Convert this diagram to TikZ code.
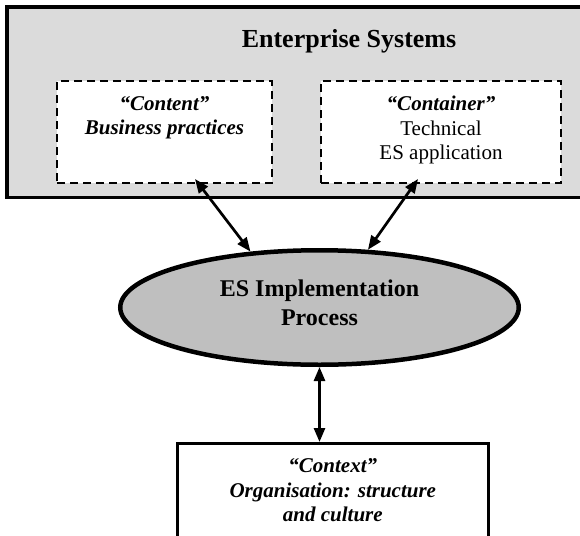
\documentclass[tikz,border=0pt]{standalone}
\usepackage{fontspec}
\setmainfont{Liberation Serif}
\usetikzlibrary{arrows.meta,positioning,shapes.geometric}

\begin{document}
\begin{tikzpicture}[x=1pt,y=-1pt,
  dashbox/.style={draw, fill=white, line width=2.7pt, dash pattern=on 8pt off 5pt, minimum height=102pt, inner sep=0pt},
  boxtext/.style={align=center, inner sep=0pt, font=\fontsize{21}{24.3}\selectfont},
  link/.style={line width=2.7pt, {Triangle[length=14pt,width=11pt]}-{Triangle[length=14pt,width=11pt]}}
]

\useasboundingbox ( 0, 0 ) rectangle ( 580, 535 );

% Enterprise systems
\filldraw [fill=black!14, draw=black, line width=3.4pt] ( 7, 7 ) rectangle ( 691, 197.5 );
\node (es) at ( 349, 41 ) [font=\fontsize{26}{30}\selectfont\bfseries] {Enterprise Systems};

% Content and container
\node [dashbox, minimum width=215pt] (content) at ( 164.5, 132 ) {};
\node [dashbox, minimum width=240pt] (container) at ( 441, 132 ) {};
\node [boxtext, below=16.5pt of content.north] (contenttext) {\textbf{\textit{“Content”}}\\\textbf{\textit{Business practices}}};
\node [boxtext, below=16.5pt of container.north] (containertext) {\textbf{\textit{“Container”}}\\Technical\\ES application};

% Implementation process
\node [ellipse, draw, fill=black!25, line width=4.5pt, minimum width=398.5pt, minimum height=114.5pt] (proc) at ( 319.5, 307.5 ) {};
\node [align=center, inner sep=0pt, font=\fontsize{24}{29.3}\selectfont\bfseries, yshift=4.4pt] (proctext) at (proc) {ES Implementation\\Process};

% Context
\node [draw, line width=3pt, minimum width=311pt, minimum height=150pt, anchor=north] (context) at ( 332.8, 442 ) {};
\node [boxtext, below=16.8pt of context.north] (contexttext) {\textbf{\textit{“Context”}}\\\textbf{\textit{Organisation: structure}}\\\textbf{\textit{and culture}}};

% Links
\coordinate (contentfoot) at ( 195, 179 );
\coordinate (containerfoot) at ( 418, 179 );
\draw [link] (contentfoot) -- (proc.141);
\draw [link] (containerfoot) -- (proc.50);
\draw [link] (proc.south) -- (proc.south |- context.north);

\end{tikzpicture}
\end{document}
